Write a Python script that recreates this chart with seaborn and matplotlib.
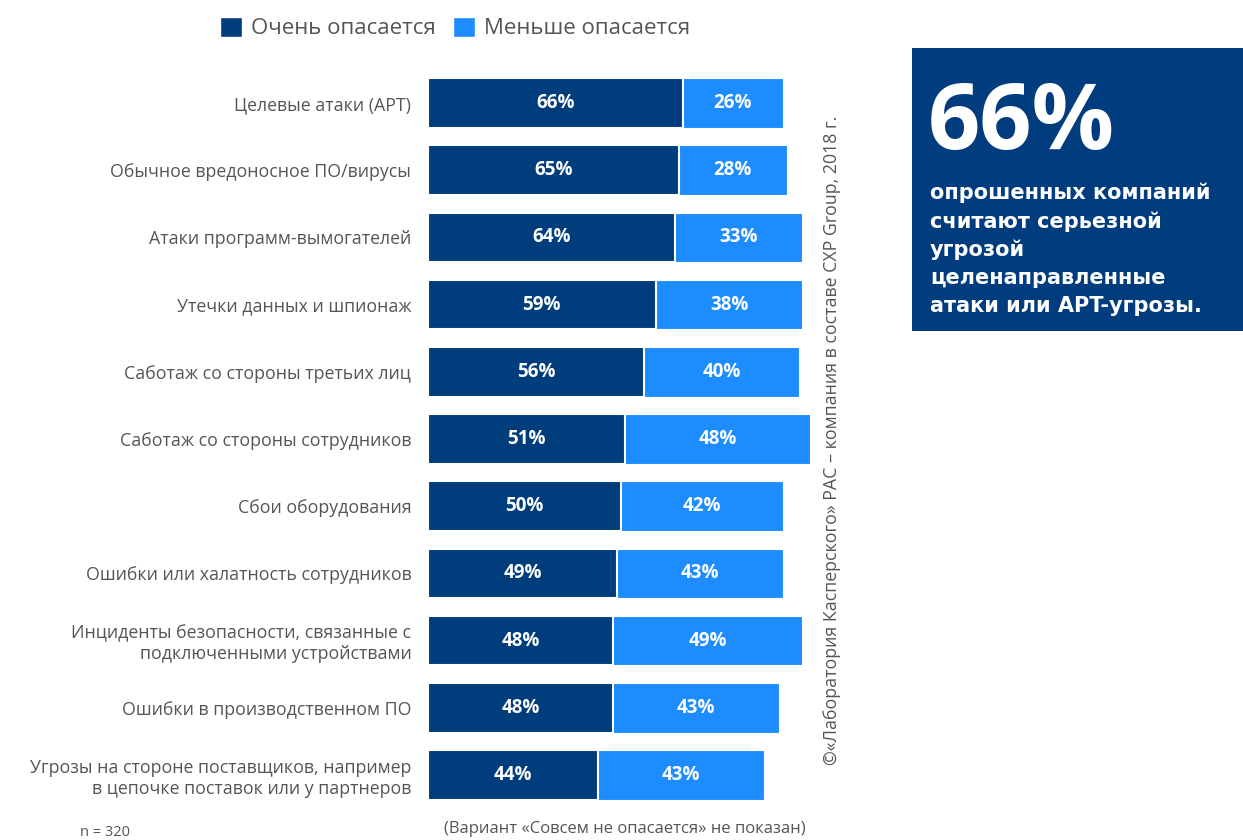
import matplotlib
matplotlib.use("Agg")
import matplotlib.pyplot as plt
from matplotlib.patches import Rectangle, Patch
import seaborn as sns
import pandas as pd

categories = [
    "Целевые атаки (APT)",
    "Обычное вредоносное ПО/вирусы",
    "Атаки программ-вымогателей",
    "Утечки данных и шпионаж",
    "Саботаж со стороны третьих лиц",
    "Саботаж со стороны сотрудников",
    "Сбои оборудования",
    "Ошибки или халатность сотрудников",
    "Инциденты безопасности, связанные с\nподключенными устройствами",
    "Ошибки в производственном ПО",
    "Угрозы на стороне поставщиков, например\nв цепочке поставок или у партнеров",
]
very_concerned = [66, 65, 64, 59, 56, 51, 50, 49, 48, 48, 44]
less_concerned = [26, 28, 33, 38, 40, 48, 42, 43, 49, 43, 43]
series_names = ["Очень опасается", "Меньше опасается"]

DARK = "#003D7C"
LIGHT = "#1C8CFF"
GRAY = "#555555"

sns.set_style("white")
plt.rcParams["font.family"] = ["Open Sans", "DejaVu Sans"]

df = pd.DataFrame({
    "cat": categories,
    "dark": very_concerned,
    "total": [a + b for a, b in zip(very_concerned, less_concerned)],
})

fig = plt.figure(figsize=(12.43, 8.4), dpi=100)
ax = fig.add_axes([428 / 1243, 1 - 808.6 / 840, 386 / 1243, 739.2 / 840])

sns.barplot(data=df, y="cat", x="total", orient="h", color=LIGHT, width=0.74,
            saturation=1, ax=ax, edgecolor="white", linewidth=0.8)
sns.barplot(data=df, y="cat", x="dark", orient="h", color=DARK, width=0.74,
            saturation=1, ax=ax, edgecolor="white", linewidth=1.5)

ax.set_xlim(0, 100)
ax.set_ylim(10.5, -0.5)
ax.set_xlabel("")
ax.set_ylabel("")
ax.set_xticks([])
ax.tick_params(axis="y", length=0, pad=12)
for lbl in ax.get_yticklabels():
    lbl.set_fontsize(12.8)
    lbl.set_color(GRAY)
    lbl.set_horizontalalignment("right")
    lbl.set_multialignment("right")
for s in ax.spines.values():
    s.set_visible(False)

for i, (d, l) in enumerate(zip(very_concerned, less_concerned)):
    ax.text(d / 2, i, f"{d}%", ha="center", va="center", color="white",
            fontsize=13.5, fontweight="bold")
    ax.text(d + l / 2, i, f"{l}%", ha="center", va="center", color="white",
            fontsize=13.5, fontweight="bold")

handles = [Patch(facecolor=DARK), Patch(facecolor=LIGHT)]
fig.legend(handles, series_names, loc="center", bbox_to_anchor=(455 / 1243, 1 - 28 / 840),
           ncol=2, frameon=False, fontsize=16, handlelength=1.0, handleheight=1.0,
           handletextpad=0.4, columnspacing=0.8, labelcolor=GRAY)

# Right info box
fig.patches.append(Rectangle((912 / 1243, 1 - 331 / 840), (1243 - 912) / 1243, (331 - 48) / 840,
                             transform=fig.transFigure, facecolor="#003C7E", edgecolor="none"))
fig.text(928 / 1243, 1 - 125 / 840, "66%", color="white", fontsize=66, fontweight="bold",
         va="center", ha="left")
box_lines = ["опрошенных компаний", "считают серьезной", "угрозой",
             "целенаправленные", "атаки или APT-угрозы."]
for k, line in enumerate(box_lines):
    fig.text(930 / 1243, 1 - (193 + k * 28.3) / 840, line, color="white", fontsize=15,
             fontweight="bold", va="center", ha="left", family=["DejaVu Sans"])

# Rotated copyright
fig.text(832 / 1243, 1 - 440 / 840,
         "©«Лаборатория Касперского» РАС – компания в составе CXP Group, 2018 г.",
         rotation=90, ha="center", va="center", fontsize=12.8, color=GRAY)

fig.text(105 / 1243, 1 - 832 / 840, "n = 320", ha="center", va="center", fontsize=10.5, color=GRAY)
fig.text(625 / 1243, 1 - 829 / 840, "(Вариант «Совсем не опасается» не показан)",
         ha="center", va="center", fontsize=12, color=GRAY)

fig.savefig("out.png", dpi=100)
